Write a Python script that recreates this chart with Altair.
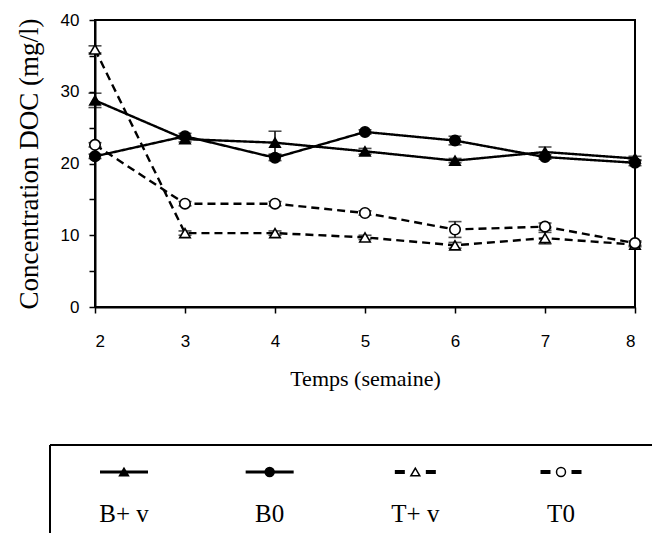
import altair as alt
import pandas as pd

weeks = [2, 3, 4, 5, 6, 7, 8]
series_names = ["B+ v", "B0", "T+ v", "T0"]

b_plus_v = [28.8, 23.4, 22.9, 21.7, 20.4, 21.6, 20.7]
b_plus_v_err = [1.0, 0.4, 1.6, 0.4, 0.3, 0.7, 0.3]
b0 = [21.0, 23.8, 20.8, 24.4, 23.2, 20.9, 20.1]
b0_err = [0.3, 0.4, 0.4, 0.3, 0.6, 0.3, 0.4]
t_plus_v = [35.9, 10.3, 10.3, 9.7, 8.6, 9.6, 8.7]
t_plus_v_err = [0.5, 0.3, 0.3, 0.3, 0.4, 0.8, 0.3]
t0 = [22.6, 14.4, 14.4, 13.1, 10.8, 11.2, 8.9]
t0_err = [0.3, 0.3, 0.3, 0.3, 1.1, 0.5, 0.3]

y_ticks = [0, 5, 10, 15, 20, 25, 30, 35, 40]
x_ticks = weeks

rows = []
for name, vals, errs in [
    ("B+ v", b_plus_v, b_plus_v_err),
    ("B0", b0, b0_err),
    ("T+ v", t_plus_v, t_plus_v_err),
    ("T0", t0, t0_err),
]:
    for w, v, e in zip(weeks, vals, errs):
        rows.append({"series": name, "week": w, "value": v, "lo": v - e, "hi": v + e})
df = pd.DataFrame(rows)
leg = pd.DataFrame({"series": series_names})

x_axis = alt.Axis(
    values=x_ticks, format="d", grid=False, tickSize=6, tickColor="black", tickWidth=1.5,
    domainColor="black", domainWidth=2, labelFont="Liberation Sans", labelFontSize=17,
    labelColor="black", labelPadding=20, title="Temps (semaine)", titleFont="Liberation Serif",
    titleFontSize=22, titleFontWeight="normal", titleColor="black", titlePadding=19,
)
y_axis = alt.Axis(
    values=y_ticks, labelExpr="datum.value % 10 == 0 ? datum.label : ''", grid=False,
    tickSize=6, tickColor="black", tickWidth=1.5, domainColor="black", domainWidth=2,
    labelFont="Liberation Sans", labelFontSize=17, labelColor="black", labelPadding=10,
    title="Concentration DOC (mg/l)", titleFont="Liberation Serif", titleFontSize=27,
    titleFontWeight="normal", titleColor="black", titlePadding=17,
)
xs = alt.Scale(domain=[2, 8], nice=False, zero=False)
ys = alt.Scale(domain=[0, 40], nice=False)


def X():
    return alt.X("week:Q", scale=xs, axis=x_axis)


def Y(field):
    return alt.Y(field, scale=ys, axis=y_axis)


shape_enc = alt.Shape("series:N", scale=alt.Scale(domain=series_names,
                      range=["triangle-up", "circle", "triangle-up", "circle"]), legend=None)
fill_enc = alt.Fill("series:N", scale=alt.Scale(domain=series_names,
                    range=["black", "black", "white", "white"]), legend=None)
dash_enc = alt.StrokeDash("series:N", scale=alt.Scale(domain=series_names,
                          range=[[1, 0], [1, 0], [8, 5], [8, 5]]), legend=None)

base = alt.Chart(df)
lines = base.mark_line(color="black", strokeWidth=2.4).encode(
    x=X(), y=Y("value:Q"), strokeDash=dash_enc, detail="series:N")
err = base.mark_rule(color="black", strokeWidth=1.5).encode(
    x=X(), y=Y("lo:Q"), y2="hi:Q")
cap_hi = base.mark_tick(orient="horizontal", size=13, thickness=1.6, color="black").encode(
    x=X(), y=Y("hi:Q"))
cap_lo = base.mark_tick(orient="horizontal", size=13, thickness=1.6, color="black").encode(
    x=X(), y=Y("lo:Q"))
pts = base.mark_point(filled=True, size=110, stroke="black", strokeWidth=1.6, opacity=1).encode(
    x=X(), y=Y("value:Q"), shape=shape_enc, fill=fill_enc)

main = alt.layer(lines, err, cap_hi, cap_lo, pts)

legx = alt.X("series:N",
             scale=alt.Scale(type="point", domain=series_names, range=[29, 466], padding=0),
             axis=None)
legbase = alt.Chart(leg)
leg_solid = legbase.transform_filter(
    alt.FieldOneOfPredicate(field="series", oneOf=["B+ v", "B0"])
).mark_rule(color="black", strokeWidth=3, xOffset=-24, x2Offset=24).encode(
    x=legx, x2="series:N", y=alt.value(452))
leg_dash = legbase.transform_filter(
    alt.FieldOneOfPredicate(field="series", oneOf=["T+ v", "T0"])
).mark_rule(color="black", strokeWidth=4, strokeDash=[10, 21], xOffset=-20.5, x2Offset=20.5).encode(
    x=legx, x2="series:N", y=alt.value(452))
leg_pts = legbase.mark_point(filled=True, size=80, stroke="black", strokeWidth=1.5, opacity=1).encode(
    x=legx, y=alt.value(452), shape=shape_enc, fill=fill_enc)
leg_txt = legbase.mark_text(font="Liberation Serif", fontSize=25, baseline="alphabetic",
                            align="center", color="black").encode(
    x=legx, y=alt.value(502), text="series:N")
frame = alt.Chart(pd.DataFrame({"k": [0]}))
box_top = frame.mark_rule(color="black", strokeWidth=2).encode(
    x=alt.value(-45), x2=alt.value(620), y=alt.value(425))
box_left = frame.mark_rule(color="black", strokeWidth=2).encode(
    x=alt.value(-45), y=alt.value(425), y2=alt.value(600))

legend = alt.layer(box_top, box_left, leg_solid, leg_dash, leg_pts, leg_txt)

chart = alt.layer(main, legend).resolve_scale(x="independent").properties(
    width=540, height=287,
    autosize=alt.AutoSizeParams(type="none"),
    padding={"left": 87, "top": 12, "right": 17, "bottom": 226},
).configure_view(stroke="black", strokeWidth=2)

chart.save("out.html", embed_options={"renderer": "svg", "actions": False})
